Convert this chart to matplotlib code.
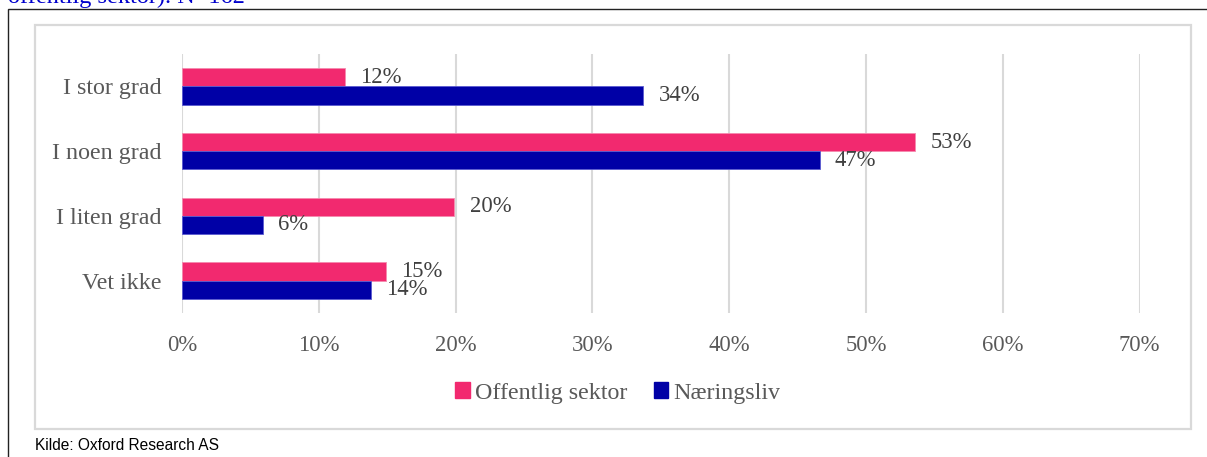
import matplotlib.pyplot as plt
from matplotlib.patches import Patch, Rectangle
import numpy as np

# --- data --- #
categories = ["I stor grad", "I noen grad", "I liten grad", "Vet ikke"]
offentlig = [11.9, 53.6, 19.9, 14.9]
naeringsliv = [33.7, 46.6, 5.9, 13.8]
offentlig_labels = ["12%", "53%", "20%", "15%"]
naeringsliv_labels = ["34%", "47%", "6%", "14%"]
x_ticks = [0, 10, 20, 30, 40, 50, 60, 70]

pink = "#F2296F"
blue = "#0000A6"
grey_txt = "#595959"
grid_col = "#D9D9D9"

plt.rcParams['font.family'] = ['Liberation Serif', 'DejaVu Serif']

W, H = 1207, 457
fig = plt.figure(figsize=(W / 100, H / 100), dpi=100)

# outer frame (black, left + top) and inner light grey chart box
fig.add_artist(Rectangle((8 / W, -0.1), 1.2, (H - 9) / H + 0.1, transform=fig.transFigure,
                         fill=False, edgecolor="#222222", linewidth=1.0))
fig.add_artist(Rectangle((35 / W, (H - 429) / H), (1191 - 35) / W, (429 - 25) / H,
                         transform=fig.transFigure, fill=False, edgecolor=grid_col, linewidth=1.6))

ax = fig.add_axes([182 / W, (H - 313) / H, (1139.7 - 182) / W, (313 - 54) / H])

y = np.arange(len(categories))
h = 0.28
b1 = ax.barh(y - h / 2, offentlig, height=h, color=pink, edgecolor="#F58AAE", linewidth=0.6,
             label="Offentlig sektor", zorder=3)
b2 = ax.barh(y + h / 2, naeringsliv, height=h, color=blue, edgecolor="#5A5AD0", linewidth=0.6,
             label="Næringsliv", zorder=3)

ax.bar_label(b1, labels=offentlig_labels, padding=11, fontsize=16.3, color="#404040")
ax.bar_label(b2, labels=naeringsliv_labels, padding=11, fontsize=16.3, color="#404040")

ax.set_xlim(0, 70)
ax.set_ylim(len(categories) - 0.5, -0.5)
ax.set_xticks(x_ticks)
ax.set_xticklabels([f"{t}%" for t in x_ticks])
ax.set_yticks(y)
ax.set_yticklabels(categories)
ax.tick_params(axis='x', length=0, pad=16, labelsize=16.3, labelcolor=grey_txt)
ax.tick_params(axis='y', length=0, pad=15, labelsize=17.3, labelcolor=grey_txt)
ax.grid(axis='x', color=grid_col, linewidth=1.5, zorder=0)
ax.set_axisbelow(True)
for s in ax.spines.values():
    s.set_visible(False)

handles = [Patch(facecolor=pink, edgecolor=pink), Patch(facecolor=blue, edgecolor=blue)]
leg = fig.legend(handles, ["Offentlig sektor", "Næringsliv"], loc='center',
                 bbox_to_anchor=(618 / W, (H - 393) / H), ncol=2, frameon=False,
                 fontsize=17.3, handlelength=0.6, handleheight=0.6, handletextpad=0.22,
                 columnspacing=1.1, borderpad=0)
for t in leg.get_texts():
    t.set_color(grey_txt)

# cut-off caption above and source line below
fig.text(8 / W, (H - 2.5) / H, "offentlig sektor). N=162", color="#0000CC", fontsize=17.5,
         ha='left', va='baseline')
fig.text(35 / W, (H - 445) / H, "Kilde: Oxford Research AS", family=['Liberation Sans', 'DejaVu Sans'],
         fontsize=11.2, color="#000000", ha='left', va='center')

fig.savefig("out.png", dpi=100)
